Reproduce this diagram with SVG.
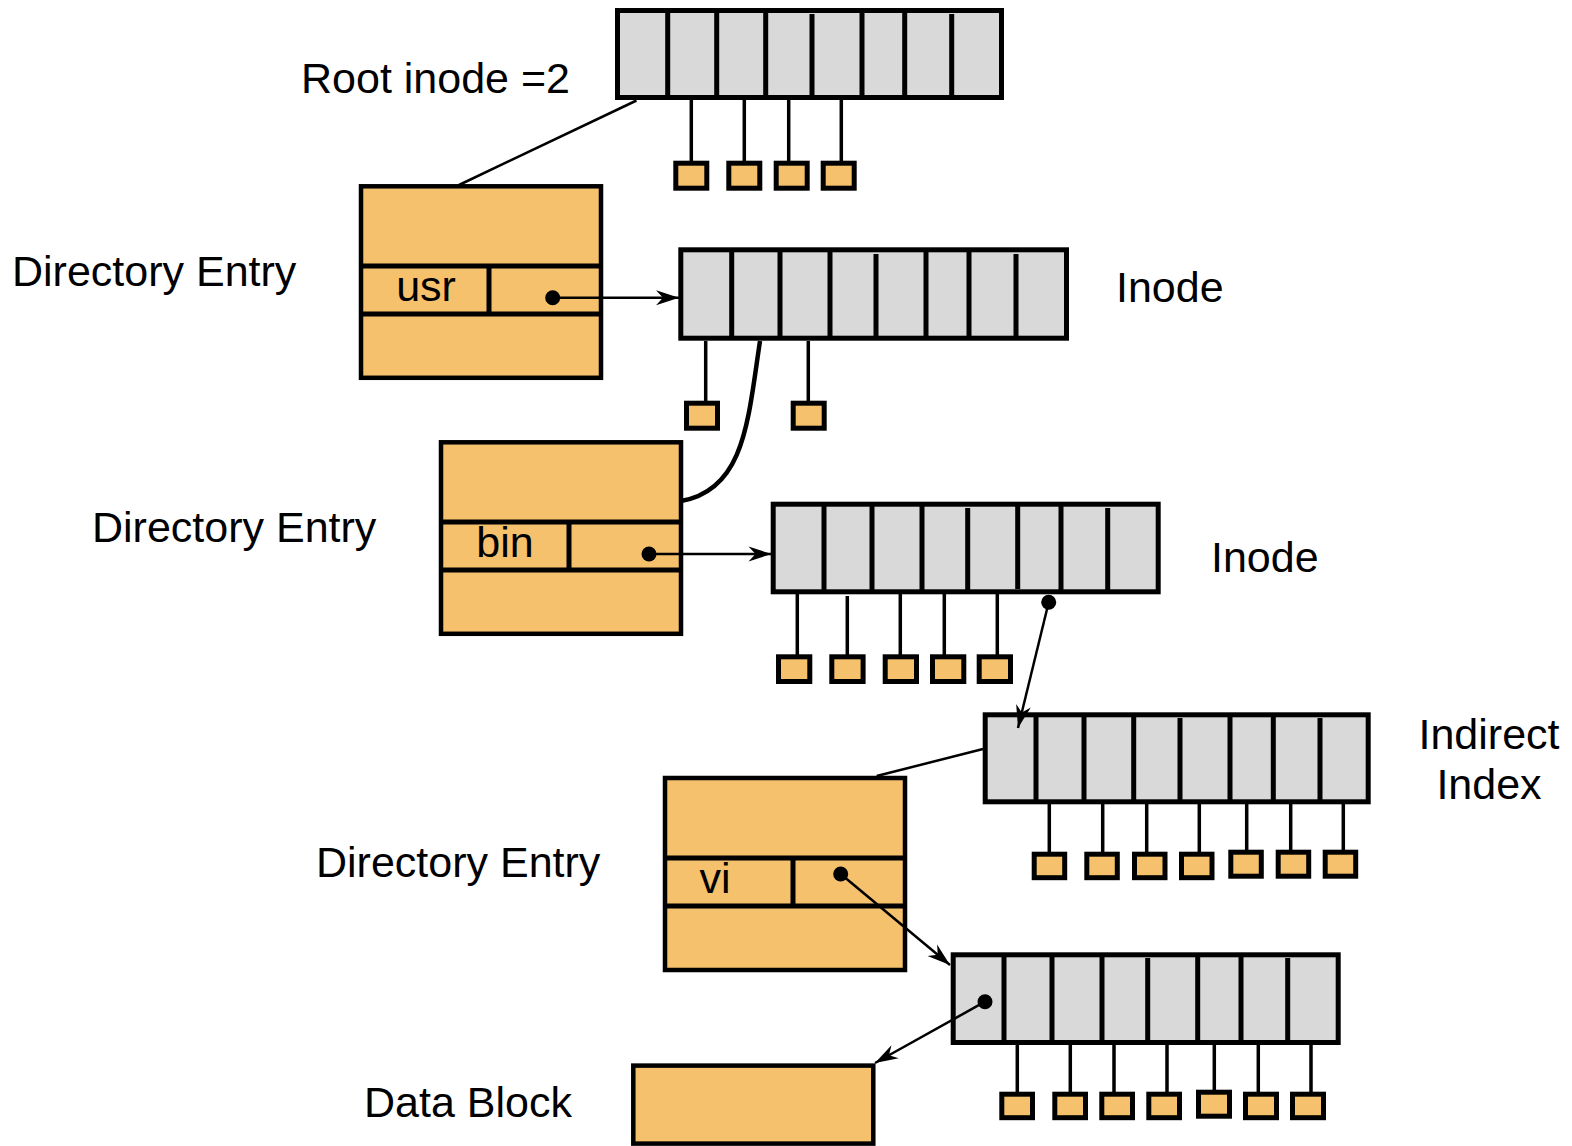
<svg xmlns="http://www.w3.org/2000/svg" width="1572" height="1146" viewBox="0 0 1572 1146">
<style>
.lbl{font-family:"Liberation Sans",Arial,sans-serif;font-size:43px;fill:#000}
.cell{fill:#D9D9D9;stroke:#000;stroke-width:5}
.div{stroke:#000;stroke-width:5}
.de{fill:#F5C16C;stroke:#000;stroke-width:4.5}
.dediv{stroke:#000;stroke-width:5}
.blk{fill:#F5C16C;stroke:#000;stroke-width:5}
.drop{stroke:#000;stroke-width:3.5}
.con{stroke:#000;stroke-width:2.5;fill:none}
.dot{fill:#000}
</style>
<defs>
<marker id="arr" markerUnits="userSpaceOnUse" markerWidth="30" markerHeight="20" viewBox="-25 -10 30 20" refX="0" refY="0" orient="auto">
<path d="M0,0 L-23,-7.5 L-16,0 L-23,7.5 Z" fill="#000"/>
</marker>
</defs>

<g id="root-inode">
<rect class="cell" x="617.5" y="10.5" width="384" height="87"/>
<path class="div" d="M667.7,10.5V97.5M716.7,10.5V97.5M765.7,10.5V97.5M812,14V97.5M862,10.5V97.5M904.7,10.5V97.5M951.7,14V97.5"/>
<path class="drop" d="M691.3,100V162M744.3,100V162M788.7,100V162M841.3,100V162"/>
<rect class="blk" x="675.8" y="163.2" width="31" height="25"/>
<rect class="blk" x="728.8" y="163.2" width="31" height="25"/>
<rect class="blk" x="776.2" y="163.2" width="31" height="25"/>
<rect class="blk" x="823.2" y="163.2" width="31" height="25"/>
<text class="lbl" x="301" y="93">Root inode =2</text>
</g>

<g id="dir-entry-usr">
<rect class="de" x="361" y="186.3" width="240" height="191.5"/>
<path class="dediv" d="M361,266H601M361,314H601M489,266V314"/>
<text class="lbl" x="426" y="301" text-anchor="middle">usr</text>
<text class="lbl" x="12" y="286">Directory Entry</text>
</g>

<g id="inode-1">
<rect class="cell" x="680.8" y="249.8" width="385.7" height="88.4"/>
<path class="div" d="M731.7,249.8V338.2M780,249.8V338.2M830,249.8V338.2M876,254V338.2M926,249.8V338.2M969,249.8V338.2M1016,254V338.2"/>
<path class="drop" d="M705.7,341V402M808.3,341V402"/>
<rect class="blk" x="686.5" y="403.2" width="31" height="25"/>
<rect class="blk" x="793.2" y="403.2" width="31" height="25"/>
<text class="lbl" x="1116" y="302">Inode</text>
</g>

<g id="dir-entry-bin">
<rect class="de" x="441" y="442.3" width="240" height="191.5"/>
<path class="dediv" d="M441,522H681M441,570H681M569,522V570"/>
<text class="lbl" x="505" y="557" text-anchor="middle">bin</text>
<text class="lbl" x="92" y="542">Directory Entry</text>
</g>

<g id="inode-2">
<rect class="cell" x="773.2" y="504.2" width="385" height="87.6"/>
<path class="div" d="M824,504.2V591.8M872,504.2V591.8M922,504.2V591.8M967.7,508V591.8M1017.7,504.2V589M1061,504.2V591.8M1107.7,508V591.8"/>
<path class="drop" d="M797.3,594V655M847.3,596V655M900.3,594V655M944.3,594V655M997.3,594V655"/>
<rect class="blk" x="778.5" y="656.8" width="31.3" height="24.7"/>
<rect class="blk" x="831.8" y="656.8" width="31.3" height="24.7"/>
<rect class="blk" x="885.2" y="656.8" width="31.3" height="24.7"/>
<rect class="blk" x="932.5" y="656.8" width="31.3" height="24.7"/>
<rect class="blk" x="979.2" y="656.8" width="31.3" height="24.7"/>
<text class="lbl" x="1211" y="572">Inode</text>
</g>

<g id="indirect-index">
<rect class="cell" x="985.2" y="714.8" width="383" height="87"/>
<path class="div" d="M1036,714.8V801.8M1084,714.8V801.8M1133.7,714.8V801.8M1180,718V801.8M1230,714.8V801.8M1273.3,714.8V801.8M1320,718V801.8"/>
<path class="drop" d="M1049.3,804V852M1102.7,804V852M1146.7,804V852M1199.3,804V852M1246.7,804V850M1290.7,804V850M1343.3,804V850"/>
<rect class="blk" x="1034.2" y="854.2" width="30.5" height="23.5"/>
<rect class="blk" x="1086.8" y="854.2" width="30.5" height="23.5"/>
<rect class="blk" x="1134.5" y="854.2" width="30.5" height="23.5"/>
<rect class="blk" x="1181.5" y="854.2" width="30.5" height="23.5"/>
<rect class="blk" x="1230.8" y="852.2" width="30.5" height="24"/>
<rect class="blk" x="1278.2" y="852.2" width="30.5" height="24"/>
<rect class="blk" x="1325.2" y="852.2" width="30.5" height="24"/>
<text class="lbl" x="1489" y="749" text-anchor="middle">Indirect</text>
<text class="lbl" x="1489" y="799" text-anchor="middle">Index</text>
</g>

<g id="dir-entry-vi">
<rect class="de" x="665" y="778" width="240" height="192"/>
<path class="dediv" d="M665,858H905M665,906H905M793,858V906"/>
<text class="lbl" x="715" y="893" text-anchor="middle">vi</text>
<text class="lbl" x="316" y="877">Directory Entry</text>
</g>

<g id="inode-3">
<rect class="cell" x="953.2" y="954.8" width="385" height="87.7"/>
<path class="div" d="M1004,954.8V1042.5M1052,954.8V1042.5M1102,954.8V1042.5M1147.7,958V1042.5M1197.7,954.8V1040M1241,954.8V1042.5M1287.7,958V1042.5"/>
<path class="drop" d="M1017.3,1045V1092M1070.3,1045V1092M1114,1045V1092M1167,1045V1092M1214.3,1045V1090M1258.3,1045V1092M1311,1045V1092"/>
<rect class="blk" x="1001.8" y="1094.2" width="30.7" height="23.5"/>
<rect class="blk" x="1054.8" y="1094.2" width="30.7" height="23.5"/>
<rect class="blk" x="1101.8" y="1094.2" width="30.7" height="23.5"/>
<rect class="blk" x="1148.8" y="1094.2" width="30.7" height="23.5"/>
<rect class="blk" x="1198.5" y="1092.2" width="31" height="24"/>
<rect class="blk" x="1245.5" y="1094.2" width="31" height="23.5"/>
<rect class="blk" x="1292.5" y="1094.2" width="31" height="23.5"/>
</g>

<g id="data-block">
<rect class="de" x="633.3" y="1065.6" width="240" height="78"/>
<text class="lbl" x="364" y="1117">Data Block</text>
</g>

<g id="connectors">
<line class="con" x1="636.5" y1="100.5" x2="459" y2="185"/>
<circle class="dot" cx="552.7" cy="297.7" r="7.5"/>
<line class="con" x1="552.7" y1="297.7" x2="679" y2="297.7" marker-end="url(#arr)"/>
<path d="M760,341 C748,420 745,490 681,501" fill="none" stroke="#000" stroke-width="4.5"/>
<circle class="dot" cx="649" cy="554" r="7.5"/>
<line class="con" x1="649" y1="554" x2="771.5" y2="554" marker-end="url(#arr)"/>
<circle class="dot" cx="1048.7" cy="602.3" r="7.5"/>
<line class="con" x1="1048.7" y1="602.3" x2="1018" y2="728" marker-end="url(#arr)"/>
<line class="con" x1="876.7" y1="776" x2="983" y2="749"/>
<circle class="dot" cx="840.7" cy="874" r="7.5"/>
<line class="con" x1="840.7" y1="874" x2="950" y2="965" marker-end="url(#arr)"/>
<circle class="dot" cx="985" cy="1001.7" r="7.5"/>
<line class="con" x1="985" y1="1001.7" x2="875" y2="1063" marker-end="url(#arr)"/>
</g>
</svg>
